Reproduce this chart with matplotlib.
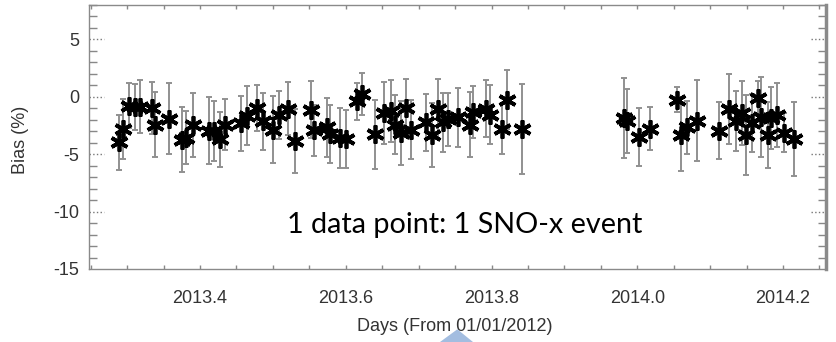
import numpy as np
import matplotlib
matplotlib.use('Agg')
import matplotlib.pyplot as plt
from matplotlib.patches import Polygon
from matplotlib.ticker import MultipleLocator, FormatStrFormatter

plt.rcParams['font.family'] = ['Liberation Sans', 'DejaVu Sans']
plt.rcParams['axes.unicode_minus'] = False

# データ
days = [2013.289, 2013.295, 2013.302, 2013.311, 2013.318, 2013.334, 2013.338, 2013.357,
        2013.375, 2013.381, 2013.390, 2013.412, 2013.419, 2013.427, 2013.434, 2013.456,
        2013.464, 2013.478, 2013.486, 2013.500, 2013.509, 2013.521, 2013.530, 2013.552,
        2013.557, 2013.574, 2013.579, 2013.592, 2013.600, 2013.615, 2013.622, 2013.640,
        2013.652, 2013.662, 2013.668, 2013.676, 2013.683, 2013.689, 2013.710, 2013.719,
        2013.727, 2013.733, 2013.740, 2013.754, 2013.770, 2013.775, 2013.792, 2013.798,
        2013.814, 2013.821, 2013.842,
        2013.982, 2013.986, 2014.003, 2014.017, 2014.055, 2014.060, 2014.068, 2014.082,
        2014.112, 2014.126, 2014.135, 2014.144, 2014.149, 2014.157, 2014.165, 2014.170,
        2014.179, 2014.184, 2014.192, 2014.201, 2014.215]
bias = [-3.95, -2.81, -0.76, -0.89, -0.85, -0.98, -2.42, -1.90,
        -3.73, -3.56, -2.47, -2.95, -2.99, -3.69, -2.42, -2.32,
        -1.63, -1.00, -2.13, -2.86, -1.59, -1.05, -3.88, -1.11,
        -2.92, -2.66, -3.25, -3.58, -3.69, -0.38, 0.24, -3.25,
        -1.37, -1.20, -2.42, -3.16, -0.94, -2.86, -2.22, -3.30,
        -1.07, -2.23, -1.96, -1.79, -2.42, -1.33, -1.02, -1.55,
        -2.79, -0.24, -2.80,
        -1.84, -2.13, -3.50, -2.77, -0.24, -3.30, -2.64, -2.07,
        -2.95, -1.05, -2.13, -1.44, -3.34, -2.27, -0.09, -1.75,
        -3.32, -1.84, -1.59, -3.15, -3.67]
err = [2.4, 2.6, 2.0, 2.0, 2.3, 2.3, 2.8, 3.1,
       2.8, 2.3, 2.8, 2.9, 2.6, 2.4, 2.2, 2.4,
       2.6, 2.0, 2.5, 2.9, 2.1, 2.3, 2.8, 2.5,
       2.2, 2.6, 2.5, 2.6, 2.5, 1.6, 1.8, 3.0,
       2.7, 2.7, 2.6, 2.8, 2.5, 2.6, 2.5, 2.8,
       2.6, 2.6, 2.3, 2.6, 2.8, 2.3, 2.5, 2.6,
       2.2, 2.6, 3.9,
       3.5, 2.8, 2.5, 1.9, 1.1, 3.2, 2.3, 3.5,
       2.5, 3.05, 2.6, 2.8, 3.5, 2.5, 1.5, 3.5,
       2.9, 2.7, 2.8, 1.7, 3.2]

y_major = [5, 0, -5, -10]
note = '1 data point: 1 SNO-x event'

fig = plt.figure(figsize=(8.37, 3.42), dpi=100)
ax = fig.add_axes([0.1063, 0.2135, 0.8806, 0.7719])

ax.errorbar(days, bias, yerr=err, fmt='none', ecolor='#909090', elinewidth=1.4,
            capsize=2.5, capthick=1.4, zorder=2)
ax.plot(days, bias, ls='none', marker=(6, 2, 0), ms=13, mew=2.7, color='black', zorder=3)

ax.set_xlim(2013.2477, 2014.259)
ax.set_ylim(-15, 8)

ax.xaxis.set_major_locator(MultipleLocator(0.2))
ax.xaxis.set_minor_locator(MultipleLocator(0.05))
ax.xaxis.set_major_formatter(FormatStrFormatter('%.1f'))
ax.yaxis.set_major_locator(MultipleLocator(5))
ax.yaxis.set_minor_locator(MultipleLocator(1))

ax.tick_params(axis='x', which='both', direction='in', length=3, width=1,
               color='#888888', top=True, bottom=True)
ax.tick_params(axis='x', which='major', pad=15, labelsize=13, labelcolor='#333333')
ax.tick_params(axis='y', which='major', length=0, pad=7, labelsize=13, labelcolor='#333333')
ax.tick_params(axis='y', which='minor', direction='in', length=6, width=1,
               color='#888888', left=True, right=True)

# 主目盛りは点線
for v in y_major:
    ax.plot([0, 0.021], [v, v], transform=ax.get_yaxis_transform(), ls=':',
            color='#777777', lw=1, clip_on=False)
    ax.plot([0.979, 1], [v, v], transform=ax.get_yaxis_transform(), ls=':',
            color='#777777', lw=1, clip_on=False)

for s in ['left', 'top', 'bottom']:
    ax.spines[s].set_color('#8a8a8a')
    ax.spines[s].set_linewidth(1)
ax.spines['right'].set_color('#8a8a8a')
ax.spines['right'].set_linewidth(2.5)

ax.set_ylabel('Bias (%)', fontsize=13, color='#333333')
ax.yaxis.set_label_coords(-0.081, 0.49)
ax.set_xlabel('Days (From 01/01/2012)', fontsize=13, color='#333333')
ax.xaxis.set_label_coords(0.4966, -0.185)

ax.text(0.2687, 0.167, note, transform=ax.transAxes, ha='left', va='center',
        fontsize=20.7, family=['Lato', 'DejaVu Sans'], color='black')

tri = Polygon([[0.5464, 0.0371], [0.5257, 0.0], [0.5651, 0.0]], closed=True,
              transform=fig.transFigure, facecolor='#a3bde0', edgecolor='none')
fig.patches.append(tri)

fig.savefig('out.png', dpi=100)
